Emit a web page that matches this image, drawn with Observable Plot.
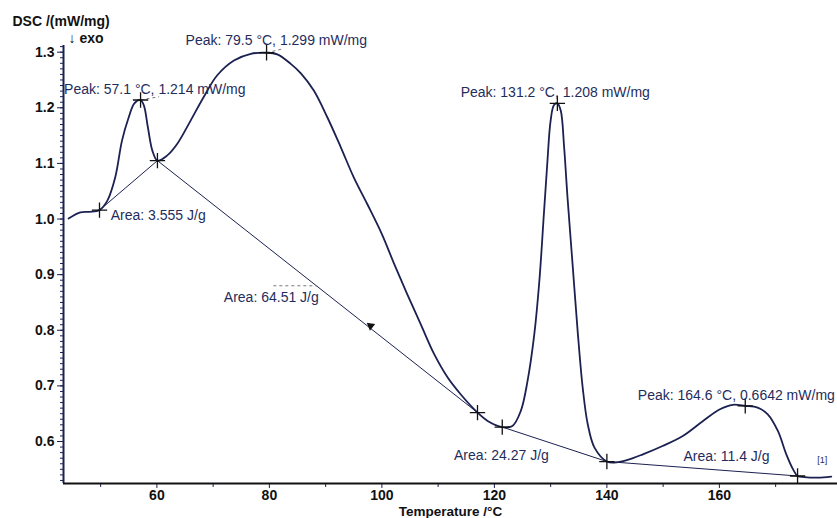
<!DOCTYPE html>
<html>
<head>
<meta charset="utf-8">
<script src="https://cdn.jsdelivr.net/npm/d3@7"></script>
<script src="https://cdn.jsdelivr.net/npm/@observablehq/plot@0.6"></script>
<style>
  html, body { margin: 0; padding: 0; background: #fff; }
  #chart { width: 837px; height: 518px; overflow: hidden; }
</style>
</head>
<body>
<div id="chart"></div>
<script>
// ---- Data ----
const temperature = [44.3, 46.4, 48.0, 49.8, 51.2, 52.6, 53.8, 55.0, 56.0, 57.1, 57.7, 58.4, 59.2, 60.1, 61.8, 63.6, 66.0, 68.3, 70.7, 73.7, 76.7, 79.5, 81.4, 83.8, 85.6, 87.9, 90.3, 92.7, 95.0, 97.4, 100.0, 102.2, 104.5, 106.9, 109.3, 111.7, 114.0, 117.0, 118.8, 121.4, 123.2, 124.7, 125.9, 127.1, 128.0, 128.8, 129.4, 130.0, 130.6, 131.2, 131.8, 132.4, 133.0, 133.9, 134.8, 135.7, 136.6, 137.8, 140.0, 141.3, 143.7, 146.4, 149.9, 153.5, 157.1, 160.1, 162.4, 164.6, 166.8, 168.6, 170.4, 171.9, 173.1, 173.9, 175.1, 177.5, 179.9];
const dsc = [1.001, 1.012, 1.013, 1.016, 1.033, 1.075, 1.141, 1.183, 1.208, 1.214, 1.204, 1.165, 1.123, 1.105, 1.114, 1.135, 1.177, 1.219, 1.258, 1.285, 1.297, 1.299, 1.296, 1.279, 1.262, 1.231, 1.183, 1.129, 1.075, 1.027, 0.973, 0.919, 0.865, 0.811, 0.757, 0.715, 0.685, 0.652, 0.637, 0.626, 0.628, 0.655, 0.709, 0.793, 0.889, 1.009, 1.099, 1.177, 1.205, 1.208, 1.195, 1.129, 1.039, 0.919, 0.799, 0.697, 0.631, 0.589, 0.564, 0.562, 0.567, 0.577, 0.592, 0.610, 0.637, 0.658, 0.666, 0.664, 0.661, 0.649, 0.619, 0.577, 0.550, 0.538, 0.536, 0.535, 0.537];

// integration baselines
const baseStartT = [49.8, 60.1, 121.4, 140.0];
const baseStartV = [1.016, 1.105, 0.626, 0.564];
const baseEndT   = [60.1, 117.0, 140.0, 173.9];
const baseEndV   = [1.105, 0.652, 0.564, 0.538];

// "+" markers
const markT = [49.8, 57.1, 60.1, 79.5, 117.0, 121.4, 131.2, 140.0, 164.6, 173.9];
const markV = [1.016, 1.214, 1.105, 1.299, 0.652, 0.626, 1.208, 0.564, 0.664, 0.538];

// annotation labels
const labelText = ["Peak: 57.1 °C, 1.214 mW/mg", "Peak: 79.5 °C, 1.299 mW/mg", "Peak: 131.2 °C, 1.208 mW/mg", "Peak: 164.6 °C, 0.6642 mW/mg",
                   "Area: 3.555 J/g", "Area: 64.51 J/g", "Area: 24.27 J/g", "Area: 11.4 J/g"];
const labelT = [43.5, 65.1, 114.0, 145.5, 51.8, 71.9, 112.8, 153.6];
const labelV = [1.233, 1.321, 1.228, 0.682, 1.006, 0.859, 0.574, 0.573];

// dashed leader lines
const dashT1 = [57.1, 79.5, 80.7];
const dashV1 = [1.214, 1.299, 0.880];
const dashT2 = [60.4, 82.4, 88.5];
const dashV2 = [1.220, 1.306, 0.880];

// arrow mark on the big baseline
const arrowT = [98.0];
const arrowV = [0.808];

// axes
const xDomain = [43.4, 181];
const yDomain = [0.5245, 1.312];
const xTicks = [60, 80, 100, 120, 140, 160];
const xMinor = [50, 70, 90, 110, 130, 150, 170];
const yTicks = [0.6, 0.7, 0.8, 0.9, 1.0, 1.1, 1.2, 1.3];
const yMinor = d3.range(53, 132).map(d => d / 100);

const curveData = temperature.map((t, i) => ({t, v: dsc[i]}));
const baselines = baseStartT.map((t, i) => ({t1: t, v1: baseStartV[i], t2: baseEndT[i], v2: baseEndV[i]}));
const markers = markT.map((t, i) => ({t, v: markV[i]}));
const labels = labelText.map((s, i) => ({s, t: labelT[i], v: labelV[i]}));
const dashes = dashT1.map((t, i) => ({t1: t, v1: dashV1[i], t2: dashT2[i], v2: dashV2[i]}));
const arrows = arrowT.map((t, i) => ({t, v: arrowV[i]}));

const ink = "#1b2150";
const textInk = "#1f2d5c";

const chart = Plot.plot({
  width: 837,
  height: 518,
  marginLeft: 63,
  marginRight: 0,
  marginTop: 45,
  marginBottom: 35,
  style: {fontFamily: "'Liberation Sans', Arial, sans-serif", fontSize: "14px", background: "#fff", color: "#111"},
  x: {domain: xDomain},
  y: {domain: yDomain},
  marks: [
    Plot.axisY(yMinor, {tickSize: 3, tickFormat: () => "", stroke: ink, label: null}),
    Plot.axisY(yTicks, {tickSize: 6, tickPadding: 3, tickFormat: d => d.toFixed(1), fontWeight: "bold", fill: "#111", stroke: ink, label: null}),
    Plot.axisX(xMinor, {tickSize: 4, tickFormat: () => "", stroke: ink, label: null}),
    Plot.axisX(xTicks, {tickSize: 5, tickPadding: 2, fontWeight: "bold", fill: "#111", stroke: ink, label: null}),
    Plot.ruleX([xDomain[0]], {stroke: ink, strokeWidth: 2}),
    Plot.ruleY([yDomain[0]], {stroke: "#111", strokeWidth: 2}),
    Plot.link(baselines, {x1: "t1", y1: "v1", x2: "t2", y2: "v2", stroke: ink, strokeWidth: 1}),
    Plot.link(dashes, {x1: "t1", y1: "v1", x2: "t2", y2: "v2", stroke: "#777", strokeWidth: 1, strokeDasharray: "3,3"}),
    Plot.line(curveData, {x: "t", y: "v", curve: "catmull-rom", stroke: ink, strokeWidth: 1.8}),
    Plot.dot(markers, {x: "t", y: "v", symbol: "plus", r: 5, stroke: "#111", strokeWidth: 1.3}),
    Plot.dot(arrows, {x: "t", y: "v", symbol: "triangle", r: 2.2, fill: "#111", stroke: "#111", rotate: -52}),
    Plot.text(labels, {x: "t", y: "v", text: "s", textAnchor: "start", fill: textInk, fontSize: 14}),
    Plot.text(["[1]"], {x: [177.4], y: [0.566], textAnchor: "start", fill: textInk, fontSize: 9}),
    Plot.text(["DSC /(mW/mg)"], {frameAnchor: "top-left", lineAnchor: "middle", dx: -51, dy: -24, textAnchor: "start", fontWeight: "bold", fill: "#111", fontSize: 14}),
    Plot.text(["↓ exo"], {frameAnchor: "top-left", lineAnchor: "middle", dx: 5, dy: -7, textAnchor: "start", fontWeight: "bold", fill: "#111", fontSize: 14}),
    Plot.text(["Temperature /°C"], {frameAnchor: "bottom", lineAnchor: "middle", dy: 28.5, fontWeight: "bold", fill: "#111", fontSize: 13.5})
  ]
});
document.getElementById("chart").appendChild(chart);
</script>
</body>
</html>
